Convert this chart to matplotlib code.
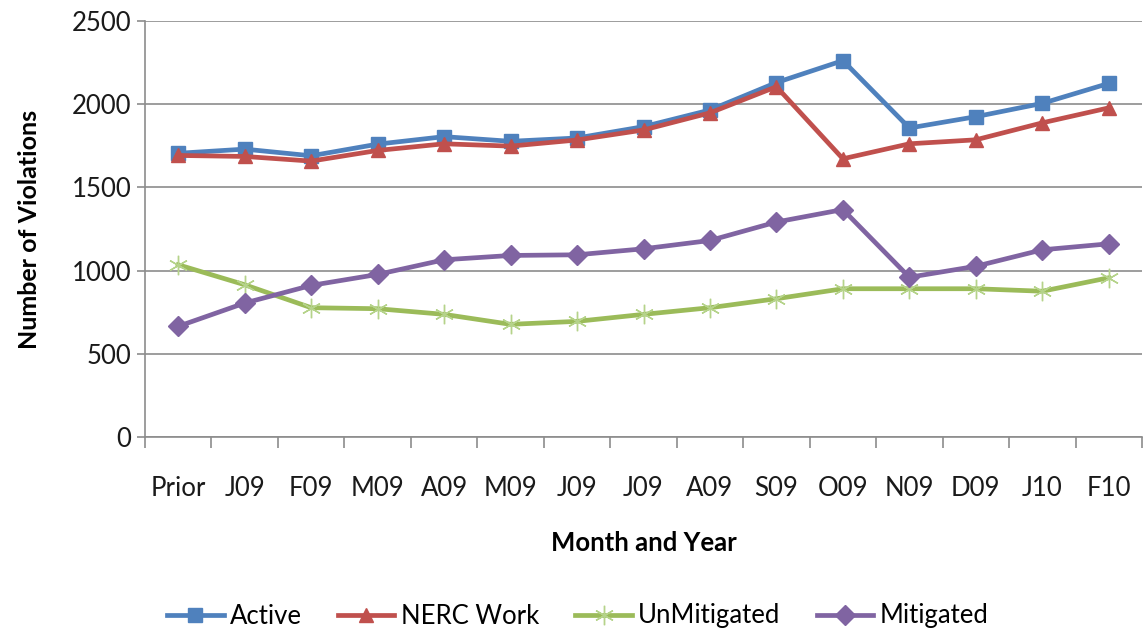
import matplotlib
matplotlib.use("Agg")
import matplotlib.pyplot as plt
import numpy as np

categories = ["Prior", "J09", "F09", "M09", "A09", "M09", "J09", "J09", "A09", "S09", "O09", "N09", "D09", "J10", "F10"]
active = [1705, 1730, 1690, 1760, 1805, 1777, 1797, 1865, 1965, 2130, 2262, 1857, 1925, 2005, 2125]
nerc_work = [1692, 1686, 1658, 1722, 1762, 1748, 1785, 1845, 1948, 2105, 1672, 1762, 1786, 1888, 1978]
unmitigated = [1035, 915, 777, 771, 737, 677, 695, 737, 777, 831, 891, 891, 891, 876, 957]
mitigated = [665, 805, 911, 977, 1065, 1091, 1095, 1131, 1181, 1292, 1367, 960, 1026, 1125, 1161]

plt.rcParams['font.family'] = ['Lato', 'DejaVu Sans']

fig = plt.figure(figsize=(11.44, 6.30), dpi=100)
ax = fig.add_axes([145/1144, 1-437/630, (1142-145)/1144, (437-21)/630])

x = np.arange(len(categories))
lw = 3.4
ax.plot(x, active, color='#4F81BD', lw=lw, marker='s', ms=10, label='Active', zorder=4)
ax.plot(x, nerc_work, color='#C0504D', lw=lw, marker='^', ms=10, label='NERC Work', zorder=5)
ax.plot(x, unmitigated, color='#9BBB59', lw=lw, marker=(6, 2, 0), ms=14, mew=1.0,
        mec='#B5D38A', label='UnMitigated', zorder=3)
ax.plot(x, mitigated, color='#8064A2', lw=lw, marker='D', ms=10, label='Mitigated', zorder=3)

ax.set_xlim(-0.5, len(categories)-0.5)
ax.set_ylim(0, 2500)
ax.set_yticks(np.arange(0, 2501, 500))
ax.set_xticks(x)
ax.set_xticklabels(categories)
ax.set_xticks(np.arange(-0.5, len(categories), 1.0), minor=True)
ax.tick_params(axis='x', which='major', length=0, pad=28, labelsize=18.5, colors='#1a1a1a')
ax.tick_params(axis='x', which='minor', length=8, width=1.2, color='#8c8c8c', direction='out')
ax.tick_params(axis='y', length=6, width=1.2, color='#8c8c8c', labelsize=18.5, pad=4, labelcolor='#1a1a1a')

ax.grid(axis='y', color='#8c8c8c', lw=1.2)
ax.set_axisbelow(True)
for s in ['top', 'right']:
    ax.spines[s].set_visible(False)
for s in ['left', 'bottom']:
    ax.spines[s].set_color('#8c8c8c')
    ax.spines[s].set_linewidth(1.2)

ax.set_xlabel('Month and Year', fontsize=18.5, fontweight='bold', labelpad=22)
ax.set_ylabel('Number of Violations', fontsize=18, fontweight='bold', labelpad=22)

fig.legend(loc='center', bbox_to_anchor=(0.505, 1-616/630), ncol=4, frameon=False,
           fontsize=18.5, handlelength=2.2, columnspacing=1.4, handletextpad=0.25)

fig.savefig('out.png', dpi=100)
